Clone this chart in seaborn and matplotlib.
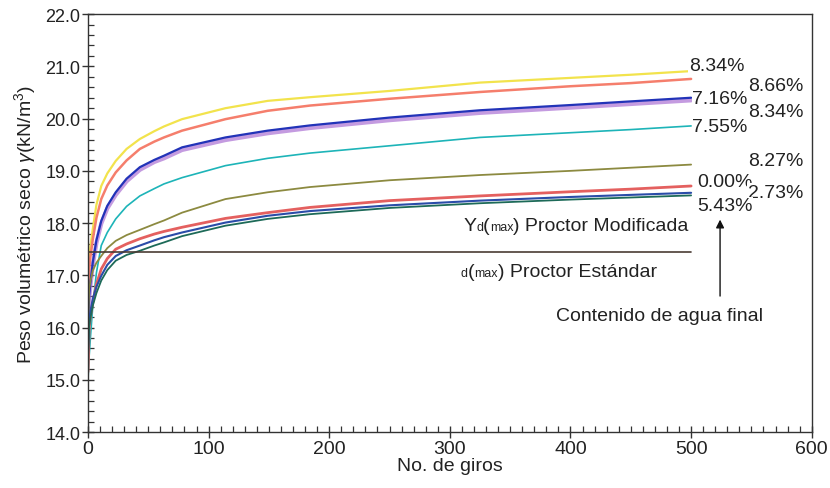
import matplotlib
matplotlib.use("Agg")
import matplotlib.pyplot as plt
from matplotlib.offsetbox import TextArea, HPacker, AnnotationBbox
from matplotlib.ticker import MultipleLocator, FormatStrFormatter
import seaborn as sns
import pandas as pd

# Number of gyrations at which the density was read
giros = [0, 1, 2, 4, 7, 11, 16, 23, 32, 43, 55, 63, 78, 114, 149, 184, 250, 325, 400, 450, 500]

# Dry unit weight (kN/m3) for each final water content
w_834_a = [16.2, 17.25, 17.55, 17.89, 18.35, 18.71, 18.95, 19.19, 19.42, 19.61, 19.76, 19.85, 19.99, 20.2, 20.34, 20.41, 20.53, 20.69, 20.78, 20.84, 20.91]
w_866 = [16.5, 17.12, 17.35, 17.69, 18.1, 18.46, 18.72, 18.97, 19.2, 19.42, 19.56, 19.64, 19.77, 19.99, 20.15, 20.25, 20.38, 20.51, 20.62, 20.68, 20.76]
w_834_b = [16.0, 16.55, 16.8, 17.2, 17.62, 17.99, 18.28, 18.54, 18.8, 19.02, 19.17, 19.24, 19.4, 19.59, 19.72, 19.82, 19.97, 20.11, 20.21, 20.28, 20.35]
w_716 = [16.1, 16.61, 16.85, 17.25, 17.67, 18.04, 18.33, 18.59, 18.85, 19.07, 19.21, 19.29, 19.45, 19.64, 19.77, 19.87, 20.02, 20.16, 20.26, 20.33, 20.4]
w_755 = [15.0, 15.46, 15.8, 16.42, 17.05, 17.57, 17.82, 18.08, 18.32, 18.52, 18.66, 18.75, 18.87, 19.1, 19.24, 19.34, 19.48, 19.64, 19.73, 19.79, 19.86]
w_827 = [16.0, 16.74, 16.88, 17.09, 17.24, 17.37, 17.52, 17.66, 17.77, 17.87, 17.98, 18.05, 18.2, 18.46, 18.59, 18.69, 18.82, 18.92, 19.0, 19.06, 19.12]
w_000 = [15.15, 16.0, 16.2, 16.48, 16.83, 17.12, 17.32, 17.5, 17.6, 17.7, 17.79, 17.84, 17.92, 18.09, 18.2, 18.3, 18.43, 18.52, 18.6, 18.65, 18.71]
w_273 = [15.5, 16.16, 16.3, 16.55, 16.78, 16.99, 17.2, 17.37, 17.48, 17.57, 17.67, 17.73, 17.82, 18.01, 18.14, 18.23, 18.34, 18.43, 18.5, 18.54, 18.58]
w_543 = [15.4, 16.03, 16.18, 16.42, 16.66, 16.9, 17.1, 17.28, 17.39, 17.47, 17.57, 17.63, 17.75, 17.95, 18.08, 18.17, 18.29, 18.38, 18.45, 18.49, 18.53]

series = {
    "8.34% (b)": w_834_b,
    "8.34% (a)": w_834_a,
    "8.66%": w_866,
    "7.16%": w_716,
    "7.55%": w_755,
    "8.27%": w_827,
    "0.00%": w_000,
    "2.73%": w_273,
    "5.43%": w_543,
}
colores = {
    "8.34% (b)": "#b07ad6",
    "8.34% (a)": "#f2e34c",
    "8.66%": "#f57e6c",
    "7.16%": "#2233b8",
    "7.55%": "#1db4b8",
    "8.27%": "#8c8a40",
    "0.00%": "#e4605f",
    "2.73%": "#2a4ca8",
    "5.43%": "#1d6a58",
}
anchos = {
    "8.34% (b)": 3.0,
    "8.34% (a)": 1.6,
    "8.66%": 1.8,
    "7.16%": 1.6,
    "7.55%": 1.2,
    "8.27%": 1.3,
    "0.00%": 2.0,
    "2.73%": 1.5,
    "5.43%": 1.3,
}

# Right-hand labels: text, x, y
etiquetas = ["8.34%", "8.66%", "7.16%", "8.34%", "7.55%", "8.27%", "0.00%", "2.73%", "5.43%"]
etq_x = [498, 547, 501, 547, 501, 547, 505, 547, 505]
etq_y = [21.02, 20.64, 20.39, 20.14, 19.84, 19.19, 18.80, 18.59, 18.33]

proctor_std = 17.45

df = pd.DataFrame(
    [(g, v, k) for k, vals in series.items() for g, v in zip(giros, vals)],
    columns=["giros", "gamma", "serie"],
)

sns.set_theme(style="white")
plt.rcParams["font.family"] = ["Liberation Sans", "DejaVu Sans"]
plt.rcParams["mathtext.fontset"] = "custom"
plt.rcParams["mathtext.rm"] = "Liberation Sans"
plt.rcParams["mathtext.it"] = "Liberation Sans:italic"

fig = plt.figure(figsize=(8.30, 4.89), dpi=100)
ax = fig.add_axes([0.106, 0.1145, 0.872, 0.8545])

for name in series:
    sub = df[df["serie"] == name]
    sns.lineplot(
        data=sub, x="giros", y="gamma", ax=ax, color=colores[name],
        linewidth=anchos[name], alpha=0.75 if name == "8.34% (b)" else 1.0,
        legend=False, zorder=2,
    )

ax.plot([0, 500], [proctor_std, proctor_std], color="#4a3c34", linewidth=1.2, zorder=3)

for t, x, y in zip(etiquetas, etq_x, etq_y):
    ax.text(x, y, t, fontsize=14, va="center", ha="left", color="#222222",
            bbox=dict(facecolor="white", edgecolor="none", pad=0.5))

# Proctor labels with small letters for the subscript
def etiqueta_proctor(partes, xy):
    cajas = [TextArea(t, textprops=dict(fontsize=s, color="#222222")) for t, s in partes]
    pack = HPacker(children=cajas, align="baseline", pad=0, sep=0)
    ab = AnnotationBbox(pack, xy, xycoords="data", box_alignment=(0, 0.5),
                        frameon=False, pad=0)
    ax.add_artist(ab)

etiqueta_proctor([("Y", 14), ("d", 9), ("(", 14), ("max", 9), (") Proctor Modificada", 14)],
                 (311, 17.96))
etiqueta_proctor([("d", 9), ("(", 14), ("max", 9), (") Proctor Estándar", 14)],
                 (309, 17.08))

ax.annotate("", xy=(524, 18.12), xytext=(524, 16.55),
            arrowprops=dict(arrowstyle="-|>", color="#111111", lw=1.0,
                            mutation_scale=12))
ax.text(474, 16.24, "Contenido de agua final", fontsize=14, ha="center", va="center",
        color="#222222")

ax.set_xlim(0, 600)
ax.set_ylim(14.0, 22.0)
ax.xaxis.set_major_locator(MultipleLocator(100))
ax.xaxis.set_minor_locator(MultipleLocator(10))
ax.yaxis.set_major_locator(MultipleLocator(1.0))
ax.yaxis.set_minor_locator(MultipleLocator(0.2))
ax.yaxis.set_major_formatter(FormatStrFormatter("%.1f"))
ax.tick_params(which="major", direction="inout", length=9, width=1.0, color="#333333",
               labelcolor="#222222", bottom=True, left=True, pad=1)
ax.tick_params(axis="x", which="major", labelsize=14)
ax.tick_params(axis="y", which="major", labelsize=13)
ax.tick_params(which="minor", direction="in", length=4, width=0.9, color="#333333",
               bottom=True, left=True)

for s in ax.spines.values():
    s.set_visible(True)
    s.set_color("#333333")
    s.set_linewidth(1.0)

ax.set_xlabel("No. de giros", fontsize=14, color="#222222", labelpad=0)
ax.set_ylabel(r"Peso volumétrico seco $\gamma$(kN/m$^3$)", fontsize=14, color="#222222",
              labelpad=5)

fig.savefig("out.png", dpi=100, facecolor="white")
